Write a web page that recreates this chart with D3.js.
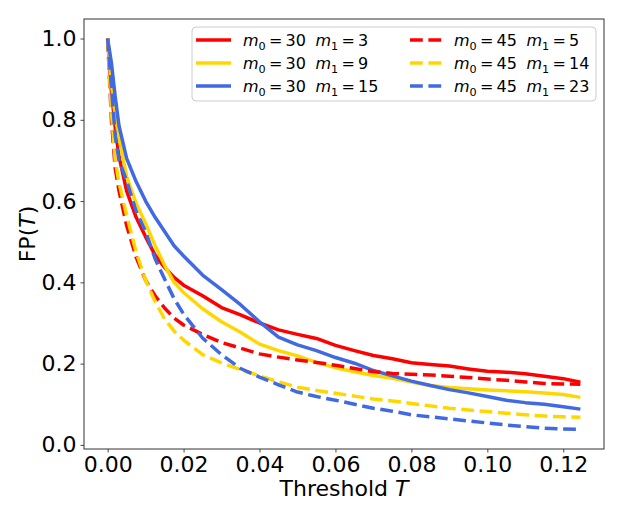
<!DOCTYPE html>
<html>
<head>
<meta charset="utf-8">
<script src="https://cdn.jsdelivr.net/npm/d3@7"></script>
<style>
  body { margin: 0; background: #fff; }
  svg { font-family: "DejaVu Sans", sans-serif; }
</style>
</head>
<body>
<svg id="chart" width="623" height="519"></svg>
<script>
// thresholds T shared by all curves
const thresholds = [0, 0.001, 0.002, 0.003, 0.005, 0.0075, 0.01, 0.0125, 0.015, 0.0175,
    0.02, 0.025, 0.03, 0.035, 0.04, 0.045, 0.05, 0.055, 0.06, 0.065, 0.07, 0.075,
    0.08, 0.085, 0.09, 0.095, 0.1, 0.105, 0.11, 0.115, 0.12, 0.1245];

// FP(T)
const fp_30_3 = [1.0, 0.87, 0.78, 0.71, 0.625, 0.56, 0.512, 0.467, 0.437, 0.412,
    0.393, 0.367, 0.338, 0.320, 0.300, 0.283, 0.272, 0.262, 0.245, 0.232, 0.220, 0.212,
    0.202, 0.198, 0.194, 0.187, 0.181, 0.179, 0.175, 0.169, 0.163, 0.154];
const fp_30_9 = [1.0, 0.89, 0.81, 0.755, 0.66, 0.595, 0.545, 0.49, 0.442, 0.40,
    0.375, 0.335, 0.303, 0.277, 0.248, 0.232, 0.219, 0.203, 0.190, 0.180, 0.171, 0.164,
    0.155, 0.146, 0.141, 0.138, 0.135, 0.133, 0.131, 0.128, 0.124, 0.117];
const fp_30_15 = [1.0, 0.94, 0.856, 0.785, 0.705, 0.648, 0.600, 0.560, 0.525, 0.490,
    0.465, 0.418, 0.382, 0.345, 0.303, 0.265, 0.246, 0.232, 0.215, 0.201, 0.183, 0.170,
    0.157, 0.146, 0.136, 0.128, 0.119, 0.110, 0.104, 0.100, 0.094, 0.088];
const fp_45_5 = [1.0, 0.80, 0.68, 0.625, 0.54, 0.462, 0.405, 0.367, 0.337, 0.312,
    0.295, 0.272, 0.252, 0.238, 0.224, 0.216, 0.209, 0.203, 0.196, 0.188, 0.180, 0.176,
    0.174, 0.172, 0.169, 0.166, 0.162, 0.159, 0.155, 0.151, 0.150, 0.149];
const fp_45_14 = [1.0, 0.82, 0.70, 0.645, 0.565, 0.475, 0.405, 0.353, 0.31, 0.28,
    0.258, 0.222, 0.202, 0.185, 0.170, 0.155, 0.142, 0.134, 0.127, 0.120, 0.113, 0.108,
    0.102, 0.096, 0.090, 0.086, 0.082, 0.078, 0.074, 0.071, 0.069, 0.068];
const fp_45_23 = [1.0, 0.88, 0.76, 0.70, 0.65, 0.575, 0.525, 0.458, 0.408, 0.36,
    0.322, 0.263, 0.222, 0.188, 0.167, 0.148, 0.130, 0.119, 0.110, 0.100, 0.090, 0.083,
    0.074, 0.069, 0.064, 0.059, 0.054, 0.049, 0.045, 0.041, 0.039, 0.038];

const m0_values = [30, 30, 30, 45, 45, 45];
const m1_values = [3, 9, 15, 5, 14, 23];
const series_values = [fp_30_3, fp_30_9, fp_30_15, fp_45_5, fp_45_14, fp_45_23];
const series_colors = ["#ff0000", "#ffd700", "#4169e1", "#ff0000", "#ffd700", "#4169e1"];
const series_dashed = [false, false, false, true, true, true];

const x_ticks = [0, 0.02, 0.04, 0.06, 0.08, 0.10, 0.12];
const y_ticks = [0, 0.2, 0.4, 0.6, 0.8, 1.0];

const svg = d3.select("#chart");
const margin = { top: 19, right: 19, bottom: 70, left: 84 };
const width = 623 - margin.left - margin.right;
const height = 519 - margin.top - margin.bottom;

// matplotlib style 5% margins
const xExt = d3.extent(thresholds);
const yExt = d3.extent(series_values.flat());
const xPad = (xExt[1] - xExt[0]) * 0.05;
const yPad = (yExt[1] - yExt[0]) * 0.05;

const x = d3.scaleLinear().
domain([xExt[0] - xPad, xExt[1] + xPad]).
range([margin.left, margin.left + width]);

const y = d3.scaleLinear().
domain([yExt[0] - yPad, yExt[1] + yPad]).
range([margin.top + height, margin.top]);

const dash = "12.8,5.6";
const lw = 3.5;

// curves
const line = d3.line().
x((d, i) => x(thresholds[i])).
y(d => y(d));

svg.append("g").
selectAll("path").
data(series_values).
join("path").
attr("d", line).
attr("fill", "none").
attr("stroke", (d, i) => series_colors[i]).
attr("stroke-width", lw).
attr("stroke-dasharray", (d, i) => series_dashed[i] ? dash : null).
attr("stroke-linejoin", "round");

// axes
const xAxis = svg.append("g").
attr("transform", "translate(0," + (margin.top + height) + ")").
call(d3.axisBottom(x).tickValues(x_ticks).tickFormat(d3.format(".2f")).tickSize(3.5).tickPadding(4));

const yAxis = svg.append("g").
attr("transform", "translate(" + margin.left + ",0)").
call(d3.axisLeft(y).tickValues(y_ticks).tickFormat(d3.format(".1f")).tickSize(3.5).tickPadding(4));

[xAxis, yAxis].forEach(a => {
    a.select(".domain").remove();
    a.selectAll("line").attr("stroke", "#333").attr("stroke-width", 0.9);
    a.selectAll("text").attr("font-size", 22).attr("fill", "#000").
    attr("font-family", "DejaVu Sans, sans-serif");
});

// frame
svg.append("rect").
attr("x", margin.left).
attr("y", margin.top).
attr("width", width).
attr("height", height).
attr("fill", "none").
attr("stroke", "#333").
attr("stroke-width", 1);

// axis labels
const xlab = svg.append("text").
attr("x", margin.left + width / 2).
attr("y", 496).
attr("text-anchor", "middle").
attr("font-size", 22);
xlab.append("tspan").text("Threshold ");
xlab.append("tspan").attr("font-style", "italic").text("T");

const ylab = svg.append("text").
attr("transform", "translate(35," + (margin.top + height / 2) + ") rotate(-90)").
attr("text-anchor", "middle").
attr("font-size", 22);
ylab.append("tspan").text("FP(");
ylab.append("tspan").attr("font-style", "italic").text("T");
ylab.append("tspan").text(")");

// legend
const legend = svg.append("g");
legend.append("rect").
attr("x", 192).
attr("y", 27).
attr("width", 404).
attr("height", 74).
attr("rx", 4).
attr("fill", "#fff").
attr("fill-opacity", 0.8).
attr("stroke", "#ccc");

const rowY = [40, 63, 86];
const colX = [196, 410];
const fs = 16;

series_values.forEach((s, i) => {
    const col = i < 3 ? 0 : 1;
    const row = i % 3;
    const g = legend.append("g").attr("transform", "translate(" + colX[col] + "," + rowY[row] + ")");
    g.append("line").
    attr("x1", 0).attr("x2", 35).
    attr("y1", 0).attr("y2", 0).
    attr("stroke", series_colors[i]).
    attr("stroke-width", lw).
    attr("stroke-dasharray", series_dashed[i] ? dash : null);
    const t = g.append("text").
    attr("x", col === 0 ? 47 : 44).
    attr("y", 6).
    attr("font-size", fs);
    t.append("tspan").attr("font-style", "italic").text("m");
    t.append("tspan").attr("font-size", fs * 0.7).attr("dy", 3.5).text("0");
    t.append("tspan").attr("dy", -3.5).text("\u2009=\u2009" + m0_values[i] + "\u2002\u200a");
    t.append("tspan").attr("font-style", "italic").text("m");
    t.append("tspan").attr("font-size", fs * 0.7).attr("dy", 3.5).text("1");
    t.append("tspan").attr("dy", -3.5).text("\u2009=\u2009" + m1_values[i]);
});
</script>
</body>
</html>
